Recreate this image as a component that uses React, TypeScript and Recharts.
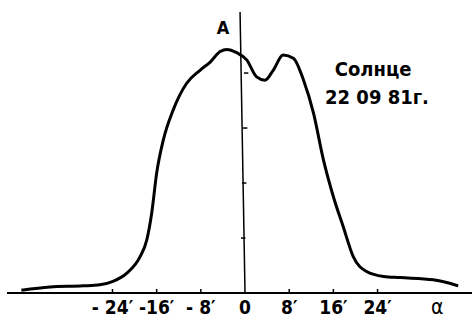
import React from 'react';
import { LineChart, Line, XAxis, YAxis, ReferenceLine, ReferenceDot } from 'recharts';

// angle α in arcminutes
const alpha = [-40.5, -35.3, -29.3, -26.3, -23.9, -21.4, -19.0, -17.8, -16.9, -16.0, -14.8, -13.0, -10.6, -8.15, -6.3, -4.5, -3.3, -1.5, 0.3, 2.1, 3.6, 5.1, 6.9, 8.75, 10.6, 12.4, 14.2, 16.0, 17.8, 19.6, 22.0, 25.1, 28.1, 34.1, 36.5, 38.6];
// relative intensity A
const intensity = [0.05, 0.11, 0.13, 0.15, 0.21, 0.36, 0.66, 0.96, 1.45, 2.18, 2.78, 3.33, 3.81, 4.05, 4.2, 4.39, 4.43, 4.37, 4.24, 3.93, 3.87, 4.05, 4.33, 4.27, 3.87, 3.27, 2.42, 1.75, 1.2, 0.66, 0.39, 0.3, 0.28, 0.24, 0.19, 0.13];

const xTicks = [-24, -16, -8, 0, 8, 16, 24];
const xTickLabels = ['- 24′', '-16′', '- 8′', '0', '8′', '16′', '24′'];
const alphaPos = 34.8;
const yTicks = [1, 2, 3, 4];
const yTop = 5.11;
const axisTopX = -0.9;

const title1 = 'Солнце';
const title2 = '22 09 81г.';
const yLabel = 'A';
const xLabel = 'α';

const data = alpha.map((a, i) => ({ a, v: intensity[i] }));

const FONT = '"DejaVu Sans Condensed", "Liberation Sans Narrow", "DejaVu Sans", sans-serif';

const Tick = (props: any) => {
  const { x, y, payload } = props;
  const val = payload.value;
  if (val === alphaPos) {
    return (
      <text x={x} y={y + 21} textAnchor="middle" fontFamily={FONT} fontSize={21} fill="#000">
        {xLabel}
      </text>
    );
  }
  const idx = xTicks.indexOf(val);
  return (
    <g>
      {val !== 0 && <line x1={x} x2={x} y1={y} y2={y - 4} stroke="#000" strokeWidth={1.5} />}
      <text x={x} y={y + 21} textAnchor="middle" fontFamily={FONT} fontWeight="bold" fontSize={19} fill="#000">
        {xTickLabels[idx]}
      </text>
    </g>
  );
};

export default function App() {
  return (
    <div style={{ position: 'absolute', left: 0, top: 0, background: '#fff' }}>
      <LineChart width={475} height={320} data={data} margin={{ top: 12, right: 3, left: 7, bottom: 0 }}>
        <XAxis
          dataKey="a"
          type="number"
          domain={[-43.1, 41.1]}
          ticks={[...xTicks, alphaPos]}
          interval={0}
          allowDataOverflow
          height={27}
          tickSize={0}
          tickMargin={0}
          tickLine={false}
          axisLine={{ stroke: '#000', strokeWidth: 2 }}
          tick={<Tick />}
        />
        <YAxis hide type="number" domain={[0, yTop]} allowDataOverflow />
        <ReferenceLine
          segment={[{ x: axisTopX, y: yTop }, { x: 0, y: 0 }]}
          stroke="#000"
          strokeWidth={1.5}
          ifOverflow="visible"
        />
        {yTicks.map((t) => (
          <ReferenceLine
            key={t}
            segment={[{ x: axisTopX * (1 - t / yTop), y: t }, { x: axisTopX * (1 - t / yTop) + 0.8, y: t }]}
            stroke="#000"
            strokeWidth={1.5}
            ifOverflow="visible"
          />
        ))}
        <Line
          dataKey="v"
          type="monotone"
          stroke="#000"
          strokeWidth={3}
          dot={false}
          isAnimationActive={false}
        />
        <ReferenceDot
          x={-4.0}
          y={4.82}
          r={0}
          ifOverflow="visible"
          label={{ value: yLabel, position: 'center', fontFamily: FONT, fontWeight: 'bold', fontSize: 18, fill: '#000' }}
        />
        <ReferenceDot
          x={23.2}
          y={4.07}
          r={0}
          ifOverflow="visible"
          label={{ value: title1, position: 'center', fontFamily: FONT, fontWeight: 'bold', fontSize: 20, fill: '#000' }}
        />
        <ReferenceDot
          x={23.9}
          y={3.56}
          r={0}
          ifOverflow="visible"
          label={{ value: title2, position: 'center', fontFamily: FONT, fontWeight: 'bold', fontSize: 20, fill: '#000' }}
        />
      </LineChart>
    </div>
  );
}
